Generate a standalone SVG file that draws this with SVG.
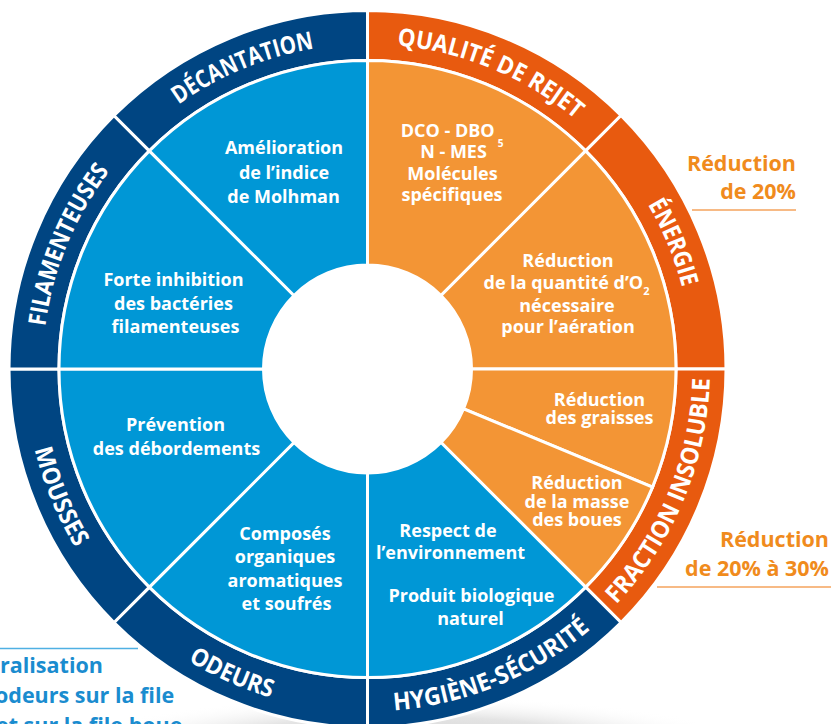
<svg xmlns="http://www.w3.org/2000/svg" width="831" height="724" viewBox="0 0 831 724">
<defs>
<style>
.navy{fill:#004582}
.rorange{fill:#e85a0f}
.sblue{fill:#0097d6}
.sorange{fill:#f39535}
.seg{stroke:#fff;stroke-width:3}
.lbl{font-family:"Open Sans","Liberation Sans",sans-serif;font-weight:700;font-size:24.5px;fill:#fff}
.txt{font-family:"Open Sans","Liberation Sans",sans-serif;font-weight:700;font-size:18px;fill:#fff;text-anchor:middle}
.note{font-family:"Open Sans","Liberation Sans",sans-serif;font-weight:700;font-size:21.5px;fill:#f08b1d;text-anchor:end}
.cap{font-family:"Open Sans","Liberation Sans",sans-serif;font-weight:700;font-size:21.5px;fill:#1a8ccf}
</style>
<radialGradient id="shadow" cx="0.5" cy="0.5" r="0.5">
<stop offset="0" stop-color="#cfcfcf"/>
<stop offset="0.6" stop-color="#e4e4e4"/>
<stop offset="1" stop-color="#ffffff" stop-opacity="0"/>
</radialGradient>
<path id="tp-dec" d="M57.5,271.3 A325,325 0 0 1 517.5,80.8"/>
<path id="tp-qual" d="M217.5,80.8 A325,325 0 0 1 677.5,271.3"/>
<path id="tp-ener" d="M465.2,59.0 A325,325 0 0 1 655.8,519.1"/>
<path id="tp-fil" d="M79.2,519.1 A325,325 0 0 1 269.8,59.0"/>
<path id="tp-frac" d="M470.5,695.6 A342.5,342.5 0 0 0 671.3,210.9"/>
<path id="tp-hyg" d="M209.4,672.8 A342.5,342.5 0 0 0 694.2,472.0"/>
<path id="tp-odeurs" d="M38.3,463.4 A342.5,342.5 0 0 0 517.6,676.8"/>
<path id="tp-mous" d="M63.7,210.9 A342.5,342.5 0 0 0 264.5,695.6"/>
</defs>
<rect width="831" height="724" fill="#ffffff"/>
<ellipse cx="410" cy="748" rx="340" ry="52" fill="url(#shadow)"/>

<g id="ring-qualite">
<path class="rorange seg" d="M367.5,10.5 A358.5,358.5 0 0 1 621,115.5 L585.64,150.86 A308.5,308.5 0 0 0 367.5,60.5 Z"/>
<text class="lbl"><textPath href="#tp-qual" startOffset="50%" text-anchor="middle" textLength="196" lengthAdjust="spacingAndGlyphs">QUALITÉ DE REJET</textPath></text>
</g>
<g id="ring-energie">
<path class="rorange seg" d="M621,115.5 A358.5,358.5 0 0 1 726,369 L676,369 A308.5,308.5 0 0 0 585.64,150.86 Z"/>
<text class="lbl"><textPath href="#tp-ener" startOffset="50%" text-anchor="middle" textLength="90" lengthAdjust="spacingAndGlyphs">ÉNERGIE</textPath></text>
</g>
<g id="ring-fraction">
<path class="rorange seg" d="M726,369 A358.5,358.5 0 0 1 621,622.5 L585.64,587.14 A308.5,308.5 0 0 0 676,369 Z"/>
<text class="lbl"><textPath href="#tp-frac" startOffset="50%" text-anchor="middle" textLength="250" lengthAdjust="spacingAndGlyphs">FRACTION INSOLUBLE</textPath></text>
</g>
<g id="ring-hygiene">
<path class="navy seg" d="M621,622.5 A358.5,358.5 0 0 1 367.5,727.5 L367.5,677.5 A308.5,308.5 0 0 0 585.64,587.14 Z"/>
<text class="lbl"><textPath href="#tp-hyg" startOffset="50%" text-anchor="middle" textLength="216" lengthAdjust="spacingAndGlyphs">HYGIÈNE-SÉCURITÉ</textPath></text>
</g>
<g id="ring-odeurs">
<path class="navy seg" d="M367.5,727.5 A358.5,358.5 0 0 1 114,622.5 L149.36,587.14 A308.5,308.5 0 0 0 367.5,677.5 Z"/>
<text class="lbl"><textPath href="#tp-odeurs" startOffset="50%" text-anchor="middle" textLength="91" lengthAdjust="spacingAndGlyphs">ODEURS</textPath></text>
</g>
<g id="ring-mousses">
<path class="navy seg" d="M114,622.5 A358.5,358.5 0 0 1 9,369 L59,369 A308.5,308.5 0 0 0 149.36,587.14 Z"/>
<text class="lbl"><textPath href="#tp-mous" startOffset="50%" text-anchor="middle" textLength="107" lengthAdjust="spacingAndGlyphs">MOUSSES</textPath></text>
</g>
<g id="ring-filamenteuses">
<path class="navy seg" d="M9,369 A358.5,358.5 0 0 1 114,115.5 L149.36,150.86 A308.5,308.5 0 0 0 59,369 Z"/>
<text class="lbl"><textPath href="#tp-fil" startOffset="50%" text-anchor="middle" textLength="170" lengthAdjust="spacingAndGlyphs">FILAMENTEUSES</textPath></text>
</g>
<g id="ring-decantation">
<path class="navy seg" d="M114,115.5 A358.5,358.5 0 0 1 367.5,10.5 L367.5,60.5 A308.5,308.5 0 0 0 149.36,150.86 Z"/>
<text class="lbl"><textPath href="#tp-dec" startOffset="50%" text-anchor="middle" textLength="148" lengthAdjust="spacingAndGlyphs">DÉCANTATION</textPath></text>
</g>

<g id="sector-dco">
<path class="sorange seg" d="M367.5,60.5 A308.5,308.5 0 0 1 585.64,150.86 L441.04,295.46 A104,104 0 0 0 367.5,265 Z"/>
<text class="txt" x="452" y="136.7">DCO - DBO<tspan font-size="10" dx="3" dy="10">5</tspan></text>
<text class="txt" x="453.5" y="158.3">N - MES</text>
<text class="txt" x="452.5" y="180">Molécules</text>
<text class="txt" x="452" y="200.5">spécifiques</text>
</g>
<g id="sector-oxygene">
<path class="sorange seg" d="M585.64,150.86 A308.5,308.5 0 0 1 676,369 L471.5,369 A104,104 0 0 0 441.04,295.46 Z"/>
<text class="txt" x="568" y="266.7">Réduction</text>
<text class="txt" x="566.5" y="289">de la quantité d’O<tspan font-size="11" dy="6">2</tspan></text>
<text class="txt" x="567" y="311.7">nécessaire</text>
<text class="txt" x="568" y="333">pour l’aération</text>
</g>
<g id="sector-graisses">
<path class="sorange seg" d="M676,369 A308.5,308.5 0 0 1 652.52,487.06 L463.59,408.8 A104,104 0 0 0 471.5,369 Z"/>
<text class="txt" x="599.5" y="406">Réduction</text>
<text class="txt" x="599.5" y="424">des graisses</text>
</g>
<g id="sector-boues">
<path class="sorange seg" d="M652.52,487.06 A308.5,308.5 0 0 1 585.64,587.14 L441.04,442.54 A104,104 0 0 0 463.59,408.8 Z"/>
<text class="txt" x="577" y="489.3">Réduction</text>
<text class="txt" x="577" y="507.5">de la masse</text>
<text class="txt" x="577" y="526">des boues</text>
</g>
<g id="sector-environnement">
<path class="sblue seg" d="M585.64,587.14 A308.5,308.5 0 0 1 367.5,677.5 L367.5,473 A104,104 0 0 0 441.04,442.54 Z"/>
<text class="txt" x="448" y="536.7">Respect de</text>
<text class="txt" x="450.5" y="559.3">l’environnement</text>
<text class="txt" x="471.5" y="601.7">Produit biologique</text>
<text class="txt" x="470.5" y="625">naturel</text>
</g>
<g id="sector-composes">
<path class="sblue seg" d="M367.5,677.5 A308.5,308.5 0 0 1 149.36,587.14 L293.96,442.54 A104,104 0 0 0 367.5,473 Z"/>
<text class="txt" x="285" y="540">Composés</text>
<text class="txt" x="285" y="563.3">organiques</text>
<text class="txt" x="285" y="586.7">aromatiques</text>
<text class="txt" x="286.5" y="610">et soufrés</text>
</g>
<g id="sector-prevention">
<path class="sblue seg" d="M149.36,587.14 A308.5,308.5 0 0 1 59,369 L263.5,369 A104,104 0 0 0 293.96,442.54 Z"/>
<text class="txt" x="175.5" y="430.7">Prévention</text>
<text class="txt" x="176.5" y="455">des débordements</text>
</g>
<g id="sector-inhibition">
<path class="sblue seg" d="M59,369 A308.5,308.5 0 0 1 149.36,150.86 L293.96,295.46 A104,104 0 0 0 263.5,369 Z"/>
<text class="txt" x="173.5" y="286">Forte inhibition</text>
<text class="txt" x="173.5" y="310">des bactéries</text>
<text class="txt" x="175.5" y="333.3">filamenteuses</text>
</g>
<g id="sector-molhman">
<path class="sblue seg" d="M149.36,150.86 A308.5,308.5 0 0 1 367.5,60.5 L367.5,265 A104,104 0 0 0 293.96,295.46 Z"/>
<text class="txt" x="284" y="154.3">Amélioration</text>
<text class="txt" x="284" y="178.7">de l’indice</text>
<text class="txt" x="283.5" y="203">de Molhman</text>
</g>

<g id="note-energie">
<text class="note" x="796" y="170.7">Réduction</text>
<text class="note" x="796" y="199.3">de 20%</text>
</g>
<g id="note-fraction">
<text class="note" x="829" y="547">Réduction</text>
<text class="note" x="829" y="576">de 20% à 30%</text>
</g>
<g id="note-odeurs">
<text class="cap" x="0" y="673">ralisation</text>
<text class="cap" x="-5" y="703">odeurs sur la file</text>
<text class="cap" x="-4" y="733">et sur la file boue</text>
</g>
<g id="connectors" fill="none" stroke-width="1.5">
<line x1="692" y1="210" x2="796" y2="210" stroke="#f4a35c"/>
<line x1="657" y1="587" x2="831" y2="587" stroke="#f4a35c"/>
<line x1="0" y1="648.5" x2="138" y2="648.5" stroke="#4fb0e3"/>
</g>
</svg>
